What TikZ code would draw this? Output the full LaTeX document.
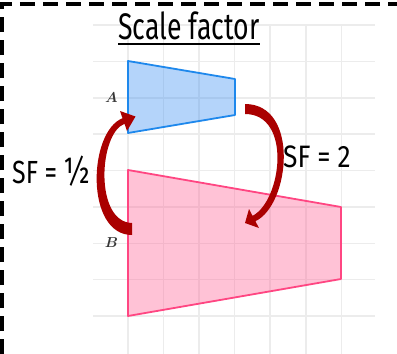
\documentclass[tikz,border=0pt]{standalone}
\usepackage{fontspec}
\setmainfont{Fira Sans}
\definecolor{gridc}{RGB}{236,236,236}
\definecolor{blueS}{RGB}{30,136,236}
\definecolor{blueF}{RGB}{67,147,242}
\definecolor{pinkS}{RGB}{255,70,130}
\definecolor{pinkF}{RGB}{255,103,153}
\definecolor{arrred}{RGB}{170,0,0}
\definecolor{labc}{RGB}{55,55,55}
\tikzset{
  gridline/.style={draw=gridc, line width=1.5pt},
  shapeA/.style={draw=blueS, fill=blueF, fill opacity=0.4, draw opacity=1, line width=1.8pt, line join=round},
  shapeB/.style={draw=pinkS, fill=pinkF, fill opacity=0.4, draw opacity=1, line width=1.8pt, line join=round},
  arrowred/.style={fill=arrred},
  lab/.style={text=labc, inner sep=0pt, font=\fontsize{14}{16}\selectfont\boldmath},
  hand/.style={anchor=base west, inner sep=0pt}
}
\begin{document}
\begin{tikzpicture}[x=1pt,y=-1pt]
\useasboundingbox (0,0) rectangle (397,354);
% grid
\foreach \i in {0,...,6} \draw[gridline] ({128+35.55*\i},25) -- ({128+35.55*\i},354);
\foreach \j in {0,...,8} \draw[gridline] (93,{25+36.375*\j}) -- (375,{25+36.375*\j});
% shapes
\filldraw[shapeA] (128,61) -- (235,79) -- (235,115) -- (128,133) -- cycle;
\filldraw[shapeB] (128,170) -- (341,207) -- (341,279) -- (128,316) -- cycle;
% labels
\node[lab] (la) at (111.5,97.5) {$A$};
\node[lab] (lb) at (111.5,243) {$B$};
% arrows
\fill[arrowred] (132,235) .. controls (85,235) and (88,132) .. (122.5,118.2) -- (120,111) -- (135.5,116.5) -- (127,131) -- (124.5,123.8) .. controls (99,133) and (94,222) .. (132,223) -- cycle;
\fill[arrowred] (245,104) .. controls (300,104) and (290,205) .. (255.4,221.2) -- (259,228) -- (245,223) -- (249,209) -- (252.6,215.9) .. controls (282,200) and (292,114) .. (245,114) -- cycle;
% title
\node[anchor=base, inner sep=0pt] (title) at (189,39) {\fontsize{37}{40}\selectfont\scalebox{0.72}[1]{Scale factor}};
\draw[line width=2pt] ([yshift=-4.5pt]title.base west) -- ([yshift=-4.5pt]title.base east);
% SF labels
\node[hand] (sfhalf) at (12,183) {\fontsize{32}{36}\selectfont\scalebox{0.78}[1]{SF = \scalebox{1.15}{½}}};
\node[hand] (sftwo) at (283,167) {\fontsize{31}{36}\selectfont\scalebox{0.85}[1]{SF = 2}};
% dashed border
\draw[line width=3.2pt, dash pattern=on 15pt off 8pt] (2,354) -- (2,4) -- (397,4);
\end{tikzpicture}
\end{document}
